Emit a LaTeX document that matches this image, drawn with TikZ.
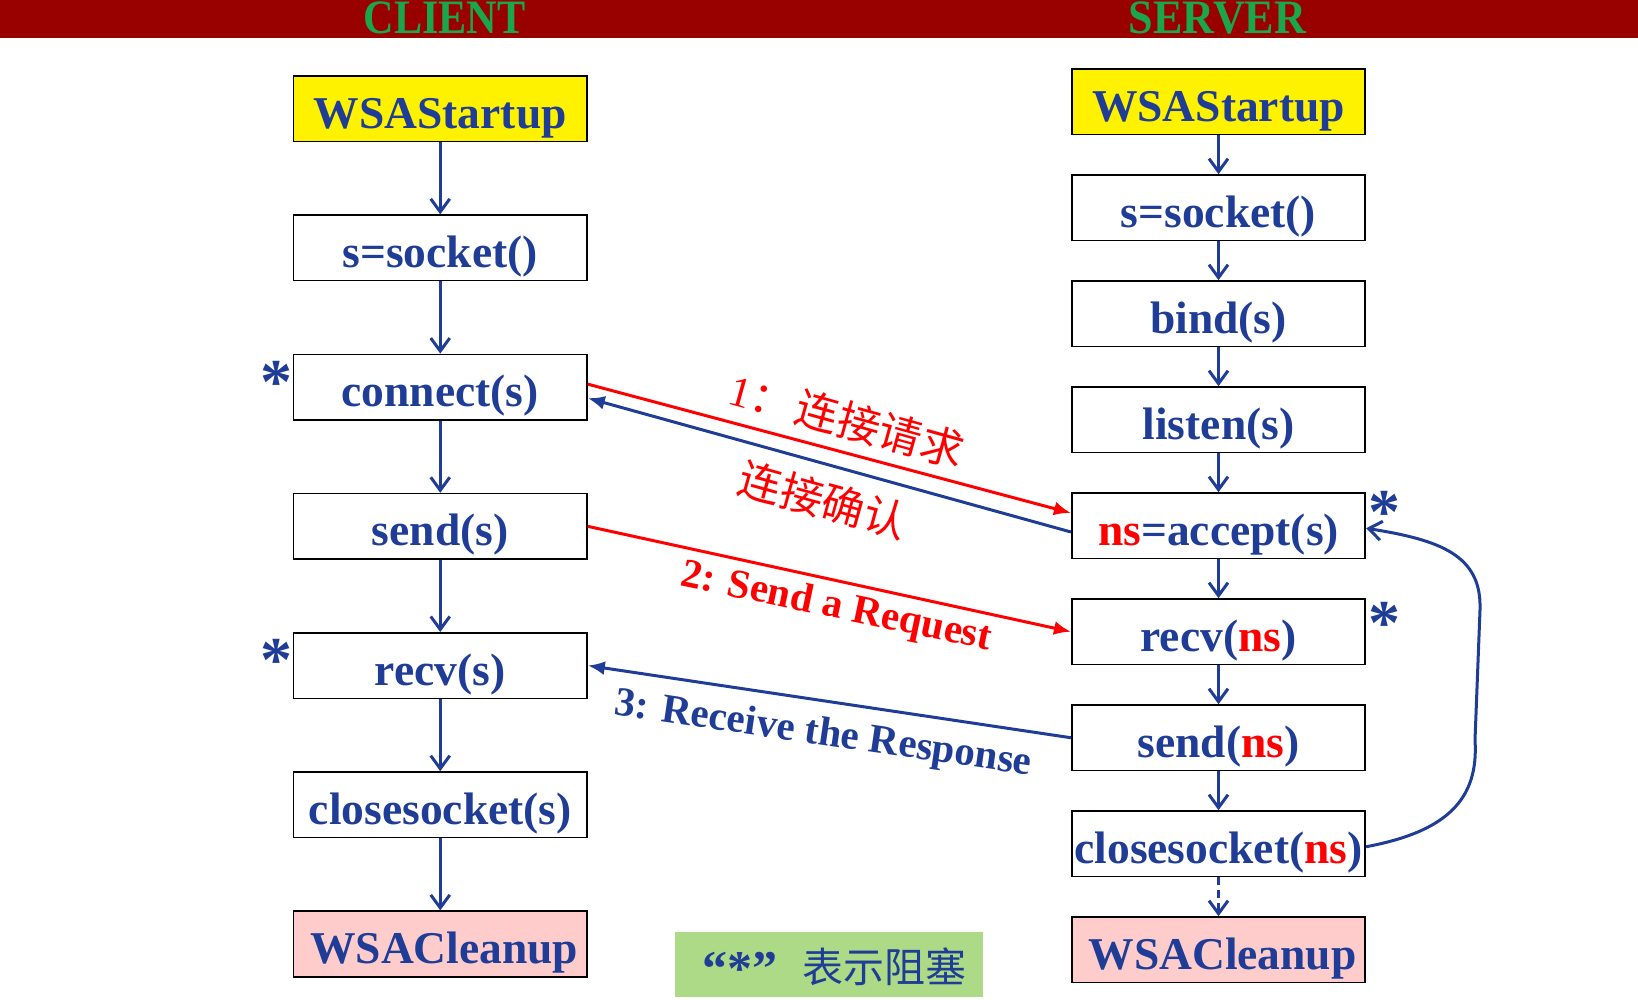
\documentclass[tikz,border=0pt]{standalone}
\usepackage{fontspec}
\usepackage{graphicx}
\setmainfont{Liberation Serif}
\newfontfamily\cjk{Noto Sans CJK SC}
\usetikzlibrary{arrows.meta}
\definecolor{navy}{HTML}{1F3D96}
\definecolor{barred}{HTML}{990000}
\definecolor{cgreen}{HTML}{1AA64A}
\definecolor{pinkfill}{HTML}{FFCCCC}
\definecolor{legfill}{HTML}{ADDA87}
\newcommand\bxfont{\fontsize{45.5}{50}\selectfont\bfseries}
\newcommand\lblfont{\fontsize{41}{46}\selectfont\bfseries}
\newcommand\starfont{\fontsize{64}{68}\selectfont\bfseries}
\tikzset{
  box/.style={draw=black, line width=1.6pt, minimum width=293.5pt, minimum height=65.5pt,
    inner sep=0pt, text height=49pt, text depth=10pt, font=\bxfont, text=navy},
  flow/.style={draw=navy, line width=3pt, -{Straight Barb[length=13pt,width=19pt,line width=3pt]}},
  dflow/.style={flow, dash pattern=on 8pt off 5pt},
  redarrow/.style={draw=red, line width=3pt, -{Latex[length=17pt,width=14pt]}},
  bluearrow/.style={draw=navy, line width=3pt, -{Latex[length=17pt,width=14pt]}},
  star/.style={anchor=base, inner sep=0pt, font=\starfont, text=navy},
  head/.style={anchor=base, inner sep=0pt, text=cgreen, font=\fontsize{48}{52}\selectfont\bfseries},
}
\begin{document}
\begin{tikzpicture}[x=1pt,y=-1pt]
\path[use as bounding box] (0,0) rectangle (1638,1000);
\fill[barred] (0,0) rectangle (1638,38);
\begin{scope}
\clip (0,0) rectangle (1638,38);
\node[head] (hc) at (444.5,33.5) {\scalebox{0.88}[1]{CLIENT}};
\node[head] (hs) at (1217.5,33.5) {\scalebox{0.92}[1]{SERVER}};
\end{scope}

% client column
\node[box, fill=yellow] (c1) at (440.25,108.75) {WSAStartup};
\node[box] (c2) at (440.25,247.95) {s=socket()};
\node[box] (c3) at (440.25,387.15) {connect(s)};
\node[box] (c4) at (440.25,526.35) {send(s)};
\node[box] (c5) at (440.25,665.55) {recv(s)};
\node[box] (c6) at (440.25,804.75) {closesocket(s)};
\node[box, fill=pinkfill] (c7) at (440.25,943.95) {\hspace*{8pt}WSACleanup};

% server column
\node[box, fill=yellow] (s1) at (1218.5,101.75) {WSAStartup};
\node[box] (s2) at (1218.5,207.75) {s=socket()};
\node[box] (s3) at (1218.5,313.75) {bind(s)};
\node[box] (s4) at (1218.5,419.75) {listen(s)};
\node[box] (s5) at (1218.5,525.75) {\textcolor{red}{ns}=accept(s)};
\node[box] (s6) at (1218.5,631.75) {recv(\textcolor{red}{ns})};
\node[box] (s7) at (1218.5,737.75) {send(\textcolor{red}{ns})};
\node[box] (s8) at (1218.5,843.75) {closesocket(\textcolor{red}{ns})};
\node[box, fill=pinkfill] (s9) at (1218.5,949.75) {\hspace*{8pt}WSACleanup};

% vertical flows
\draw[flow] (c1) -- (c2);
\draw[flow] (c2) -- (c3);
\draw[flow] (c3) -- (c4);
\draw[flow] (c4) -- (c5);
\draw[flow] (c5) -- (c6);
\draw[flow] (c6) -- (c7);
\draw[flow] (s1) -- (s2);
\draw[flow] (s2) -- (s3);
\draw[flow] (s3) -- (s4);
\draw[flow] (s4) -- (s5);
\draw[flow] (s5) -- (s6);
\draw[flow] (s6) -- (s7);
\draw[flow] (s7) -- (s8);
\draw[dflow] (s8) -- (s9);

% loop back
\draw[flow] ([yshift=-3pt]s8.east) .. controls +(80,-15) and +(4,60) .. (1475,740)
  -- (1480,610) .. controls (1482,555) and (1440,540) .. ([yshift=-2.5pt]s5.east);

% messages
\draw[redarrow] ([yshift=3pt]c3.east) -- ([yshift=12.75pt]s5.west);
\draw[bluearrow] ([yshift=-6.25pt]s5.west) -- ([yshift=-11pt]c3.east);
\draw[redarrow] (c4.east) -- (s6.west);
\draw[bluearrow] (s7.west) -- (c5.east);

\node[rotate=-15.5, text=red, inner sep=0pt] (l1) at (847,420)
  {\fontsize{43}{46}\selectfont 1{\cjk ：}\hspace{4pt}{\cjk 连接请求}};
\node[rotate=-15.5, text=red, inner sep=0pt] (l2) at (823,500)
  {\fontsize{43}{46}\selectfont\cjk 连接确认};
\node[rotate=-11.8, text=red, inner sep=0pt, font=\lblfont] (l3) at (836,608) {2: Send a Request};
\node[rotate=-8.3, text=navy, inner sep=0pt, font=\lblfont] (l4) at (823,735) {3: Receive the Response};

% stars
\node[star] (st1) at (276,403) {*};
\node[star] (st2) at (276,681.5) {*};
\node[star] (st3) at (1384.5,533.5) {*};
\node[star] (st4) at (1384.5,644.5) {*};

% legend
\node[fill=legfill, minimum width=308pt, minimum height=65pt, inner sep=0pt] (leg) at (829,964.5) {};
\node[anchor=base, inner sep=0pt, text=navy, font=\fontsize{50}{54}\selectfont\bfseries] (lq) at (740,985) {“*”};
\node[anchor=base, inner sep=0pt, text=navy, font=\fontsize{41}{44}\selectfont\cjk] (lt) at (884,982) {表示阻塞};
\end{tikzpicture}
\end{document}
